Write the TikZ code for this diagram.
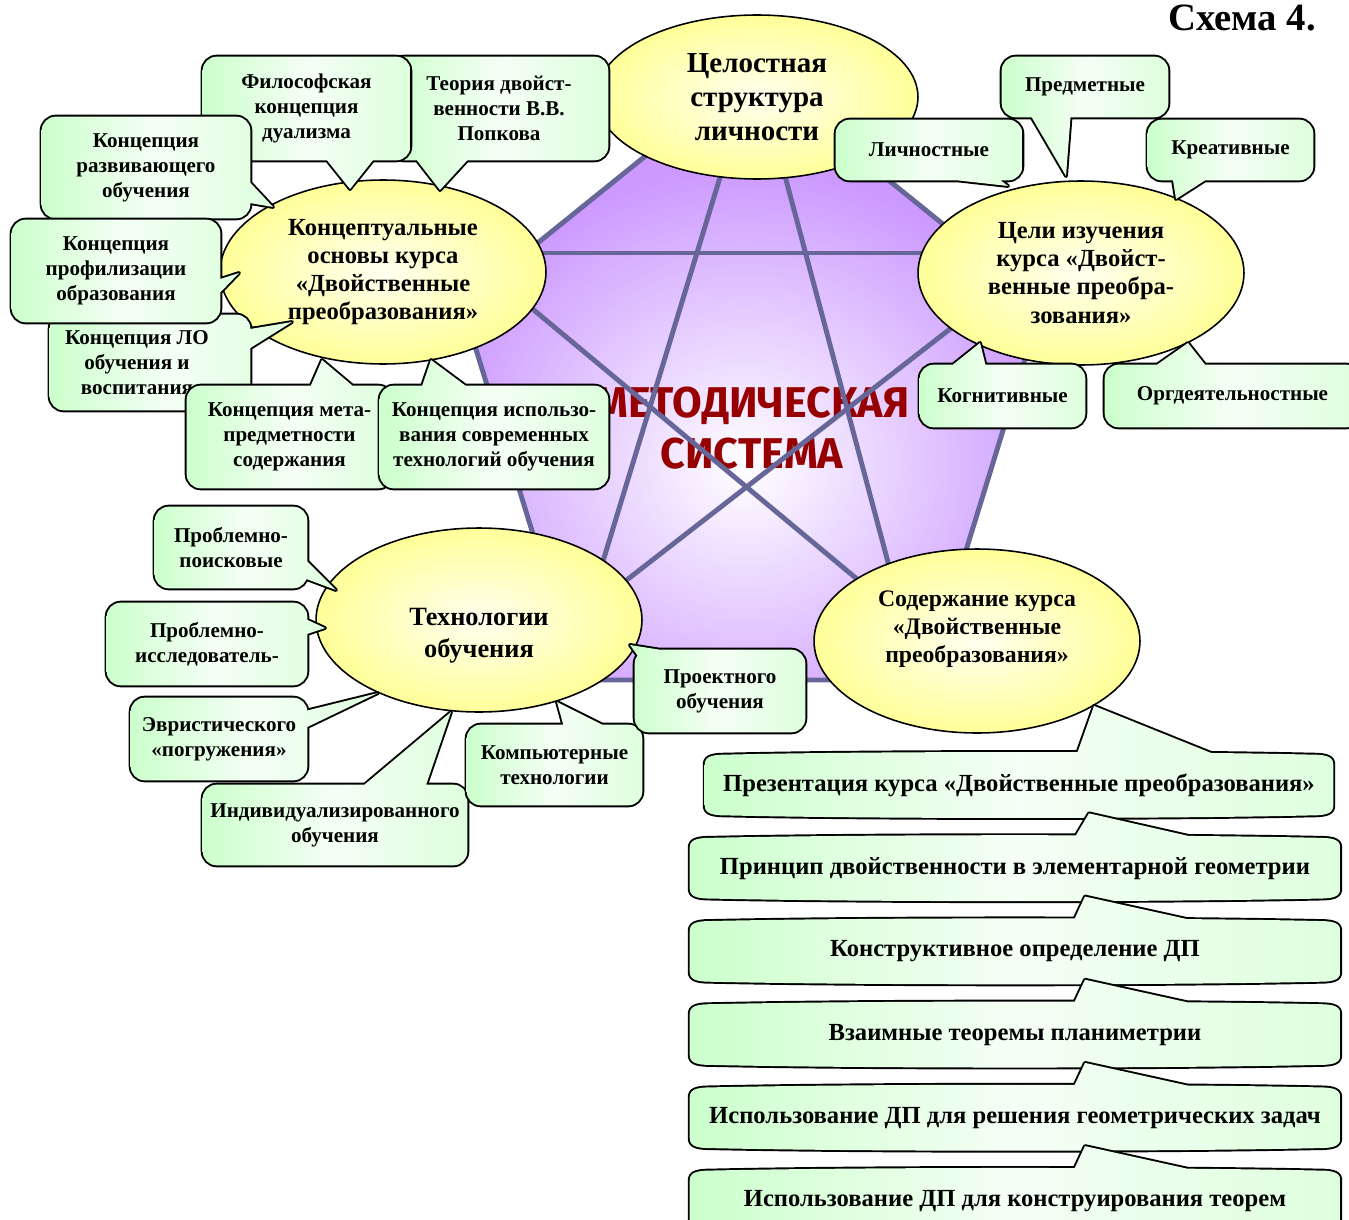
\documentclass[tikz,border=0pt]{standalone}
\usepackage{fontspec}
\setmainfont{Liberation Serif}
\newfontfamily\methfont{Fira Sans}
\usetikzlibrary{positioning,calc,fit,shapes.geometric}
\definecolor{cgreen}{RGB}{204,255,204}
\definecolor{cyellow}{RGB}{255,255,153}
\definecolor{cpurple}{RGB}{204,153,255}
\definecolor{cslate}{RGB}{102,102,153}
\definecolor{cred}{RGB}{150,0,0}
\pgfdeclarelayer{pent}
\pgfdeclarelayer{ell}
\pgfdeclarelayer{cshape}
\pgfsetlayers{pent,ell,cshape,main}
\tikzset{
  cbox/.style={rectangle, inner sep=0pt, draw=none},
  lbox/.style={rectangle, inner sep=0pt, draw=none, minimum width=130mm, minimum height=12mm},
  ctext/.style={align=center, inner sep=0pt, font=\bfseries\fontsize{12}{14.2}\selectfont},
  ltext/.style={align=center, inner sep=0pt, font=\bfseries\fontsize{14}{16}\selectfont},
  oval/.style={ellipse, draw=black, line width=0.9pt, inner sep=0pt, align=center, inner color=cyellow!15!white, outer color=cyellow, minimum width=65.2mm, minimum height=36.8mm},
  bubbleline/.style={draw=black, line width=2.2pt, line join=round},
  bubblefill/.style={shade, left color=cgreen, right color=cgreen!65!white, middle color=cgreen!20!white},
  starline/.style={draw=cslate, line width=2.8pt}
}
\newcommand\bubble[6][]{%
  \begin{pgfonlayer}{cshape}
    \foreach \pass in {bubbleline,bubblefill}
      \path[\pass, rounded corners=8pt] (#2.north west) rectangle (#2.south east)
        [sharp corners] #3 -- #4 -- #5 -- cycle #3 -- #4 -- #5 -- cycle;
    \node[ctext,#1] (#2-t) at (#2.center) {#6};
  \end{pgfonlayer}}
\newcommand\scroll[3]{%
  \begin{pgfonlayer}{cshape}
    \foreach \pass in {bubbleline,bubblefill}
      \path[\pass] ($(#1.north west)+(0,-2mm)$) .. controls ($(#1.north west)+(0,-0.6mm)$) and ($(#1.north west)+(1mm,0)$) .. ($(#1.north west)+(4mm,0)$)
        .. controls ($(#1.north)+(-30mm,0.7mm)$) and ($(#1.north)+(30mm,0.7mm)$) .. ($(#1.north east)+(-4mm,0)$)
        .. controls ($(#1.north east)+(-1mm,0)$) and ($(#1.north east)+(0,-0.6mm)$) .. ($(#1.north east)+(0,-2mm)$)
        -- ($(#1.south east)+(0,2mm)$)
        .. controls ($(#1.south east)+(0,0.6mm)$) and ($(#1.south east)+(-1mm,0)$) .. ($(#1.south east)+(-4mm,0)$)
        .. controls ($(#1.south)+(30mm,-0.7mm)$) and ($(#1.south)+(-30mm,-0.7mm)$) .. ($(#1.south west)+(4mm,0)$)
        .. controls ($(#1.south west)+(1mm,0)$) and ($(#1.south west)+(0,0.6mm)$) .. ($(#1.south west)+(0,2mm)$) -- cycle
        ($(#1.north)+(11mm,-1.5mm)$) -- #2 -- ($(#1.north)+(43mm,-1.5mm)$) -- cycle
        ($(#1.north)+(11mm,-1.5mm)$) -- #2 -- ($(#1.north)+(43mm,-1.5mm)$) -- cycle;
    \node[ltext] (#1-t) at (#1.center) {#3};
  \end{pgfonlayer}}

\begin{document}
\begin{tikzpicture}[x=0.02cm, y=-0.02cm]
\useasboundingbox (0,0) rectangle (1349,1220);
\begin{pgfonlayer}{pent}
\fill[white] (0,0) rectangle (1349,1220);
\coordinate (p0) at (752,70);
\coordinate (p1) at (1042,304);
\coordinate (p2) at (926,680);
\coordinate (p3) at (578,680);
\coordinate (p4) at (462,304);
\begin{scope}
\clip (p0) -- (p1) -- (p2) -- (p3) -- (p4) -- cycle;
\fill[cpurple] (p0) -- (p1) -- (p2) -- (p3) -- (p4) -- cycle;
\shade[inner color=white, outer color=cpurple] (745,465) ellipse (320 and 300);
\node[font=\methfont\bfseries\fontsize{24.5}{29}\selectfont, text=cred, align=center] (meth) at (752,428) {МЕТОДИЧЕСКАЯ\\СИСТЕМА};
\draw[starline] (400,253) -- (1100,253);
\draw[starline] (778,-13) -- (536,781);
\draw[starline] (733,-19) -- (953,806);
\draw[starline] (374,177) -- (1018,713);
\draw[starline] (1111,204) -- (467,704);
\end{scope}
\draw[starline, line join=round] (p0) -- (p1) -- (p2) -- (p3) -- (p4) -- cycle;
\end{pgfonlayer}

\begin{pgfonlayer}{ell}
\node[oval, minimum width=64.4mm, minimum height=32.8mm, font=\bfseries\fontsize{16.5}{19.5}\selectfont] (whole) at (757,97) {Целостная\\структура\\личности};
\node[oval, font=\bfseries\fontsize{14}{16}\selectfont] (concept) at (383,272) {Концептуальные\\основы курса\\«Двойственные\\преобразования»};
\node[oval, font=\bfseries\fontsize{14}{16}\selectfont] (goals) at (1081,273) {Цели изучения\\курса «Двойст-\\венные преобра-\\зования»};
\node[oval, font=\bfseries\fontsize{15}{18}\selectfont] (techn) at (479,620) {\mbox{}\\[10pt]Технологии\\обучения};
\node[oval, font=\bfseries\fontsize{13.5}{16}\selectfont] (content) at (977,641) {Содержание курса\\«Двойственные\\преобразования»\\\mbox{}};
\end{pgfonlayer}

\node[font=\bfseries\fontsize{22}{26}\selectfont, anchor=base east] (title) at (1322,31) {Схема 4.};

\node[cbox, fit={(390,57)(608,160)}] (teor) {};
\bubble{teor}{(412,154)}{(440,190)}{(473,154)}{Теория двойст-\\венности В.В.\\Попкова}
\node[cbox, fit={(203,57)(410,160)}] (filos) {};
\bubble{filos}{(322,154)}{(350,189)}{(378,154)}{Философская\\концепция\\дуализма}
\node[cbox, fit={(42,117)(250,218)}] (razv) {};
\bubble{razv}{(244,176)}{(273,207)}{(244,202)}{Концепция\\развивающего\\обучения}
\node[cbox, fit={(50,315)(250,410)}] (lo) {};
\bubble[xshift=-2.6mm]{lo}{(244,330)}{(292,322)}{(244,352)}{Концепция ЛО\\обучения и\\воспитания}
\node[cbox, fit={(12,220)(220,322)}] (prof) {};
\bubble{prof}{(214,281)}{(239,273)}{(214,299)}{Концепция\\профилизации\\образования}
\node[cbox, fit={(187,386)(392,488)}] (meta) {};
\bubble{meta}{(308,392)}{(322,360)}{(360,392)}{Концепция мета-\\предметности\\содержания}
\node[cbox, fit={(380,386)(608,488)}] (ispol) {};
\bubble{ispol}{(420,392)}{(431,360)}{(474,392)}{Концепция использо-\\вания современных\\технологий обучения}

\node[cbox, fit={(1002,57)(1168,117)}] (predm) {};
\bubble{predm}{(1028,111)}{(1066,176)}{(1071,111)}{Предметные}
\node[cbox, fit={(836,120)(1022,180)}] (lichn) {};
\bubble{lichn}{(900,174)}{(1008,186)}{(992,174)}{Личностные}
\node[cbox, fit={(1148,120)(1313,180)}] (kreat) {};
\bubble{kreat}{(1172,174)}{(1176,199)}{(1215,174)}{Креативные}
\node[cbox, fit={(920,365)(1085,427)}] (kogn) {};
\bubble{kogn}{(945,371)}{(980,343)}{(987,371)}{Когнитивные}
\node[cbox, fit={(1105,365)(1360,427)}] (orgd) {};
\bubble{orgd}{(1148,371)}{(1188,343)}{(1210,371)}{Оргдеятельностные}

\node[cbox, fit={(155,507)(307,588)}] (poisk) {};
\bubble{poisk}{(301,555)}{(336,590)}{(301,577)}{Проблемно-\\поисковые}
\node[cbox, fit={(107,603)(307,685)}] (issl) {};
\bubble{issl}{(301,617)}{(325,628)}{(301,636)}{Проблемно-\\исследователь-}
\node[cbox, fit={(131,698)(307,780)}] (evr) {};
\bubble{evr}{(301,712)}{(378,693)}{(301,730)}{Эвристического\\«погружения»}
\node[cbox, fit={(203,785)(467,865)}] (indiv) {};
\bubble{indiv}{(357,791)}{(451,712)}{(424,791)}{Индивидуализированного\\обучения}
\node[cbox, fit={(467,725)(642,805)}] (komp) {};
\bubble{komp}{(565,731)}{(557,702)}{(615,731)}{Компьютерные\\технологии}
\node[cbox, fit={(635,650)(805,732)}] (proekt) {};
\bubble{proekt}{(700,656)}{(630,645)}{(645,666)}{Проектного\\обучения}

\node[lbox, minimum width=125.6mm] (pres) at (1019,785) {};
\scroll{pres}{(content.-29)}{Презентация курса «Двойственные преобразования»}
\node[lbox, below=4.5mm of pres, xshift=-0.8mm] (princ) {};
\scroll{princ}{($(pres.south)+(14mm,0.4mm)$)}{Принцип двойственности в элементарной геометрии}
\node[lbox, below=4.5mm of princ] (konstr) {};
\scroll{konstr}{($(princ.south)+(14mm,0.4mm)$)}{Конструктивное определение ДП}
\node[lbox, below=4.5mm of konstr] (vzaim) {};
\scroll{vzaim}{($(konstr.south)+(14mm,0.4mm)$)}{Взаимные теоремы планиметрии}
\node[lbox, below=4.5mm of vzaim] (reshen) {};
\scroll{reshen}{($(vzaim.south)+(14mm,0.4mm)$)}{Использование ДП для решения геометрических задач}
\node[lbox, below=4.5mm of reshen] (konteor) {};
\scroll{konteor}{($(reshen.south)+(14mm,0.4mm)$)}{Использование ДП для конструирования теорем}
\end{tikzpicture}
\end{document}
